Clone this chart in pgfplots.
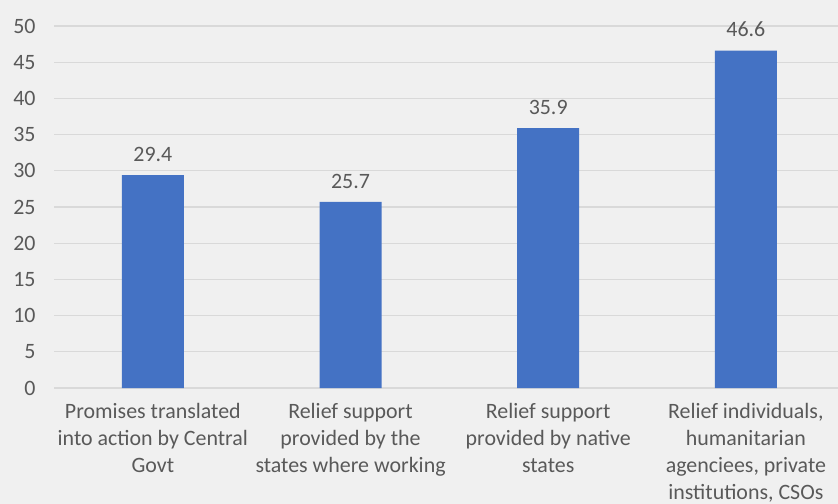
\documentclass[border=0pt]{standalone}
\usepackage{fontspec}
\setmainfont{Carlito}
\usepackage{pgfplots}
\pgfplotsset{compat=1.18}
\usetikzlibrary{backgrounds}
\definecolor{bg}{HTML}{F0F0F0}
\definecolor{gridc}{HTML}{D9D9D9}
\definecolor{barblue}{HTML}{4472C4}
\definecolor{txt}{HTML}{595959}
\begin{document}
\begin{tikzpicture}
\begin{axis}[
  scale only axis, width=784bp, height=362bp,
  xmin=-0.5, xmax=3.466, ymin=0, ymax=50,
  ytick={0,5,...,50},
  xtick={0,1,2,3},
  xticklabels={{Promises translated\\into action by Central\\Govt},
               {Relief support\\provided by the\\states where working},
               {Relief support\\provided by native\\states},
               {Relief individuals,\\humanitarian\\agenciees, private\\institutions, CSOs}},
  xticklabel style={align=center, font=\fontsize{22}{27}\selectfont, text=txt, anchor=north, yshift=-12bp},
  yticklabel style={font=\fontsize{22}{24}\selectfont, text=txt, xshift=-15bp},
  /pgf/number format/assume math mode=true,
  major tick length=0pt,
  axis x line*=bottom, axis y line*=left,
  y axis line style={draw=none},
  x axis line style={gridc, line width=1.2bp, -},
  ymajorgrids, grid style={gridc, line width=1.2bp},
  ybar, bar width=62bp,
  nodes near coords,
  nodes near coords style={font=\fontsize{22}{24}\selectfont, text=txt, yshift=10bp, /pgf/number format/.cd, fixed, precision=1, fixed zerofill},
  clip=false,
]
\addplot[fill=barblue, draw=none] coordinates {(0,29.4) (1,25.7) (2,35.9) (3,46.6)};
\coordinate (sw) at (rel axis cs:0,0);
\coordinate (ne) at (rel axis cs:1,1);
\end{axis}
\pgfresetboundingbox
\path ([shift={(-54bp,-116bp)}]sw) rectangle ([shift={(0bp,26bp)}]ne);
\begin{scope}[on background layer]
\fill[bg] ([shift={(-54bp,-116bp)}]sw) rectangle ([shift={(0bp,26bp)}]ne);
\end{scope}
\end{tikzpicture}
\end{document}
